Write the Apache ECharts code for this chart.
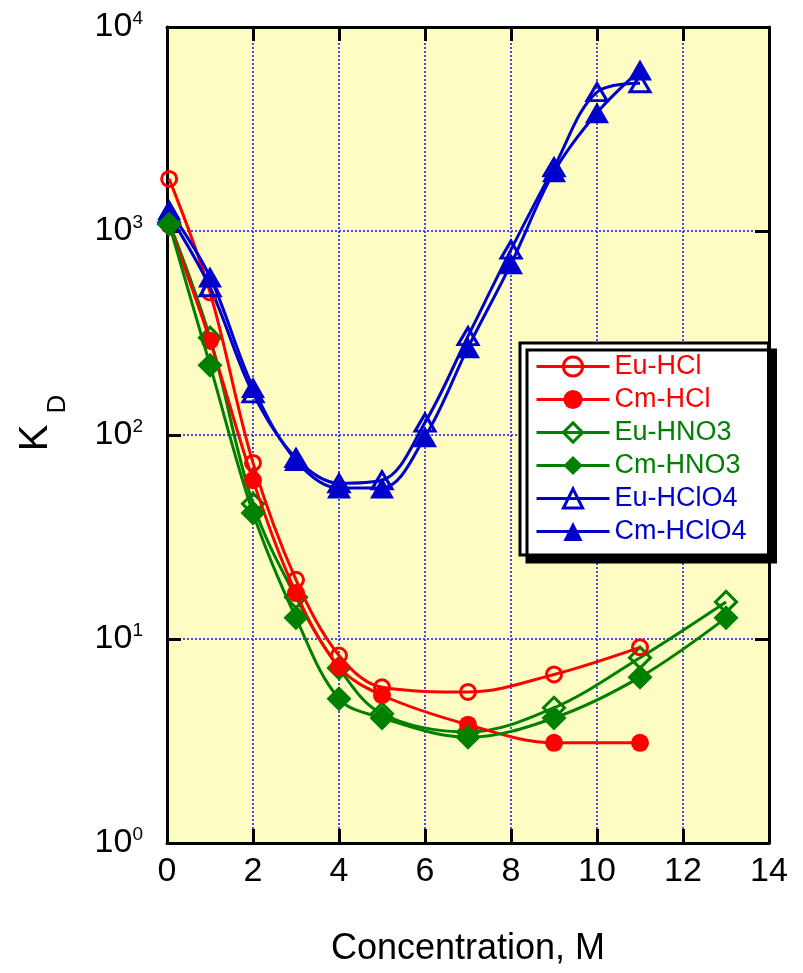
<!DOCTYPE html>
<html>
<head>
<meta charset="utf-8">
<script src="https://cdn.jsdelivr.net/npm/echarts@6/dist/echarts.min.js"></script>
<style>
  html, body { margin: 0; padding: 0; background: #fff; }
  #chart { width: 803px; height: 973px; }
</style>
</head>
<body>
<div id="chart"></div>
<script>
// Distribution coefficients K_D vs. acid concentration (M)
const concHCl   = [0.05, 1, 2, 3, 4, 5, 7, 9, 11];
const euHCl     = [1800, 500, 73, 19.5, 8.3, 5.8, 5.5, 6.7, 9.1];
const cmHCl     = [1070, 290, 60, 16.8, 7.3, 5.3, 3.8, 3.1, 3.1];

const concHNO3  = [0.05, 1, 2, 3, 4, 5, 7, 9, 11, 13];
const euHNO3    = [1100, 300, 46, 16, 7.2, 4.3, 3.5, 4.6, 8.1, 15.2];
const cmHNO3    = [1080, 220, 41.5, 12.7, 5.1, 4.1, 3.3, 4.1, 6.5, 12.7];

const concHClO4 = [0.05, 1, 2, 3, 4, 5, 6, 7, 8, 9, 10, 11];
const euHClO4   = [1200, 530, 160, 77, 58, 60, 115, 305, 810, 2050, 4800, 5300];
const cmHClO4   = [1270, 595, 171, 75, 55, 55, 98, 268, 690, 1950, 3800, 6150];

const xTicks = [0, 2, 4, 6, 8, 10, 12, 14];
const yDecades = [1, 10, 100, 1000, 10000];

const RED = '#ff0000', GREEN = '#008000', BLUE = '#0000cc';
const FONT = '"Liberation Sans", Arial, Helvetica, sans-serif';

function pairs(xs, ys) { return xs.map((x, i) => [x, ys[i]]); }

function makeSeries(name, xs, ys, color, symbol, filled, size, z) {
  return {
    name, type: 'line', z,
    data: pairs(xs, ys),
    smooth: 0.35,
    symbol, symbolSize: size,
    showAllSymbol: true,
    lineStyle: { color, width: 3 },
    itemStyle: filled
      ? { color, borderWidth: 0 }
      : { color: 'rgba(0,0,0,0)', borderColor: color, borderWidth: 3 },
    emphasis: { disabled: true }
  };
}

const series = [
  makeSeries('Eu-HCl',   concHCl,   euHCl,   RED,   'circle',   false, 15, 3),
  makeSeries('Cm-HCl',   concHCl,   cmHCl,   RED,   'circle',   true,  18, 4),
  makeSeries('Eu-HNO3',  concHNO3,  euHNO3,  GREEN, 'diamond',  false, 21, 2),
  makeSeries('Cm-HNO3',  concHNO3,  cmHNO3,  GREEN, 'diamond',  true,  25, 5),
  makeSeries('Eu-HClO4', concHClO4, euHClO4, BLUE,  'triangle', false, [20, 17], 3),
  makeSeries('Cm-HClO4', concHClO4, cmHClO4, BLUE,  'triangle', true,  [24, 21], 4)
];

const legendColors = [RED, RED, GREEN, GREEN, BLUE, BLUE];

const axisLineStyle = { show: true, onZero: false, lineStyle: { color: '#000', width: 3 } };
const tickStyle = { show: true, inside: true, length: 14, lineStyle: { color: '#000', width: 3 } };
const gridLineStyle = { show: true, lineStyle: { color: '#4a4ae8', width: 2, type: [2, 2] } };

const chart = echarts.init(document.getElementById('chart'), null, { renderer: 'canvas' });

chart.setOption({
  animation: false,
  backgroundColor: '#ffffff',
  textStyle: { fontFamily: FONT },
  grid: {
    left: 167, right: 34, top: 27, bottom: 130,
    show: true, backgroundColor: '#fdfdc3', borderWidth: 0
  },
  xAxis: [
    {
      type: 'value', position: 'bottom',
      min: xTicks[0], max: xTicks[xTicks.length - 1], interval: 2,
      axisLine: axisLineStyle, axisTick: tickStyle,
      axisLabel: { fontSize: 34, color: '#000', margin: 12, fontFamily: FONT },
      splitLine: gridLineStyle,
      name: 'Concentration, M', nameLocation: 'middle', nameGap: 88,
      nameTextStyle: { fontSize: 36, color: '#000', fontFamily: FONT }
    },
    {
      type: 'value', position: 'top',
      min: xTicks[0], max: xTicks[xTicks.length - 1], interval: 2,
      axisLine: axisLineStyle, axisTick: tickStyle,
      axisLabel: { show: false }, splitLine: { show: false }
    }
  ],
  yAxis: [
    {
      type: 'log', logBase: 10, position: 'left',
      min: yDecades[0], max: yDecades[yDecades.length - 1],
      axisLine: axisLineStyle, axisTick: tickStyle,
      minorTick: { show: false },
      axisLabel: {
        margin: 24, color: '#000',
        formatter: v => '{b|10}{e|' + Math.round(Math.log10(v)) + '}',
        rich: {
          b: { fontSize: 34, lineHeight: 36, color: '#000', fontFamily: FONT },
          e: { fontSize: 19, lineHeight: 20, verticalAlign: 'top', color: '#000', fontFamily: FONT }
        }
      },
      splitLine: gridLineStyle
    },
    {
      type: 'log', logBase: 10, position: 'right',
      min: yDecades[0], max: yDecades[yDecades.length - 1],
      axisLine: axisLineStyle, axisTick: tickStyle,
      axisLabel: { show: false }, splitLine: { show: false }
    }
  ],
  legend: {
    orient: 'vertical', left: 520, top: 343,
    itemWidth: 73, itemHeight: 24, itemGap: 6,
    padding: [10, 22, 10, 15],
    backgroundColor: '#ffffff', borderColor: '#000', borderWidth: 3,
    shadowColor: '#000', shadowOffsetX: 7, shadowOffsetY: 7, shadowBlur: 0,
    textStyle: { fontSize: 27, fontFamily: FONT },
    lineStyle: { width: 'inherit' },
    itemStyle: { borderWidth: 'inherit' },
    selectedMode: false,
    data: series.map((s, i) => ({ name: s.name, textStyle: { color: legendColors[i] } }))
  },
  graphic: [
    {
      type: 'text', x: 36, y: 438, rotation: Math.PI / 2,
      style: { text: 'K', fontSize: 40, fontFamily: FONT, fill: '#000', align: 'center', verticalAlign: 'middle' }
    },
    {
      type: 'text', x: 58, y: 404, rotation: Math.PI / 2,
      style: { text: 'D', fontSize: 26, fontFamily: FONT, fill: '#000', align: 'center', verticalAlign: 'middle' }
    }
  ],
  series
});
</script>
</body>
</html>
